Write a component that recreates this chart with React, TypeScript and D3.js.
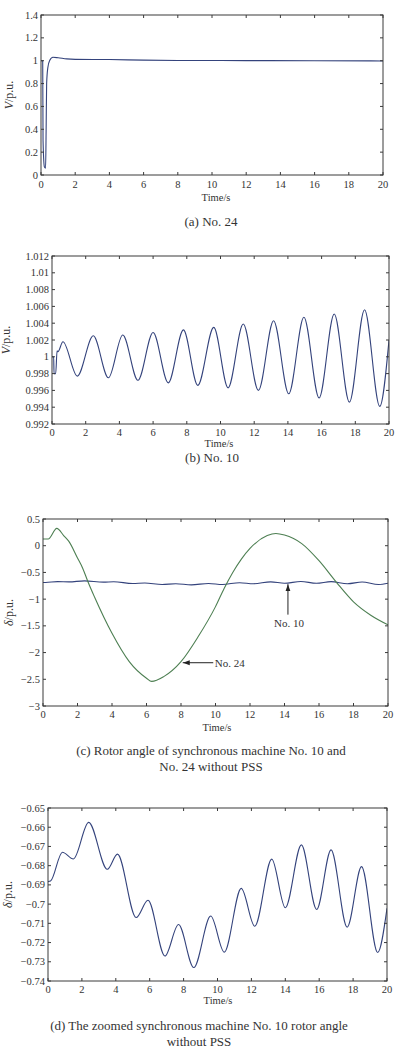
import React from "react";
import * as d3 from "d3";

// ---------- DATA ----------
const xTicks = [0, 2, 4, 6, 8, 10, 12, 14, 16, 18, 20];

// (a) bus No. 24 voltage
const v24T = [0, 0.1, 0.12, 0.2, 0.27, 0.3, 0.33, 0.4, 0.5, 0.7, 1.0, 1.5, 2, 4, 6, 8, 12, 16, 20];
const v24V = [1.0, 1.0, 0.3, 0.07, 0.06, 0.4, 0.8, 0.94, 1.0, 1.03, 1.026, 1.016, 1.012, 1.01, 1.005, 1.002, 1.001, 1.0, 0.998];
const yTicksA = [0, 0.2, 0.4, 0.6, 0.8, 1, 1.2, 1.4];

// (b) bus No. 10 voltage
const v10T = [0, 0.1, 0.12, 0.22, 0.3, 0.35, 0.65, 1.5, 2.45, 3.35, 4.2, 5.1, 6.0, 6.9, 7.8, 8.65, 9.6, 10.45, 11.35, 12.25, 13.15, 14.05, 14.95, 15.85, 16.75, 17.65, 18.55, 19.45, 20];
const v10V = [1.0, 1.0, 0.998, 0.998, 1.0007, 1.0006, 1.0018, 0.9977, 1.0025, 0.9975, 1.0026, 0.9972, 1.0029, 0.9969, 1.0032, 0.9966, 1.0035, 0.9963, 1.0039, 0.996, 1.0043, 0.9956, 1.0047, 0.9951, 1.0051, 0.9946, 1.0056, 0.9941, 1.002];
const yTicksB = [0.992, 0.994, 0.996, 0.998, 1, 1.002, 1.004, 1.006, 1.008, 1.01, 1.012];

// (c) rotor angle No. 24
const d24T = [0, 0.3, 0.8, 1.2, 1.5, 2.0, 2.3, 2.6, 3, 4, 5, 6, 6.3, 7, 8, 9, 10, 10.5, 11, 11.5, 12, 13, 13.5, 14, 15, 16, 17, 18, 19, 20];
const d24V = [0.125, 0.125, 0.325, 0.19, 0.08, -0.23, -0.42, -0.67, -0.97, -1.64, -2.17, -2.48, -2.54, -2.45, -2.17, -1.7, -1.14, -0.8, -0.5, -0.25, -0.05, 0.19, 0.23, 0.2, 0.04, -0.28, -0.68, -1.05, -1.3, -1.48];
const yTicksC = [-3, -2.5, -2, -1.5, -1, -0.5, 0, 0.5];

// (c)/(d) rotor angle No. 10
const d10T = [0, 0.15, 0.85, 1.5, 2.4, 3.5, 4.1, 5.2, 5.9, 6.9, 7.7, 8.6, 9.6, 10.4, 11.4, 12.2, 13.2, 14.0, 14.95, 15.85, 16.7, 17.65, 18.5, 19.45, 20];
const d10V = [-0.6883, -0.688, -0.673, -0.6765, -0.6575, -0.6819, -0.674, -0.707, -0.698, -0.727, -0.7106, -0.733, -0.7062, -0.725, -0.6918, -0.7115, -0.6766, -0.7019, -0.6692, -0.7028, -0.6718, -0.712, -0.6805, -0.7252, -0.7022];
const yTicksD = [-0.74, -0.73, -0.72, -0.71, -0.7, -0.69, -0.68, -0.67, -0.66, -0.65];

const BLUE = "#34437c";
const GREEN = "#4d7f52";
const AXIS = "#3a3a3a";
const FONT = "Liberation Serif, DejaVu Serif, Times New Roman, serif";

type Series = { t: number[]; v: number[]; color: string };

const fmt = (v: number) => {
  const s = String(+v.toFixed(4));
  return s.replace("-", "\u2212");
};

const txt = (size: number) => ({ fontSize: size, fontFamily: FONT, fill: "#333" });

function Panel(props: {
  left: number; right: number; top: number; bottom: number;
  yDomain: [number, number]; yTicks: number[];
  series: Series[];
  tickBase: number; timeBase: number; timeX: number;
  yLabel: React.ReactNode; yLabelX: number;
  children?: (x: d3.ScaleLinear<number, number>, y: d3.ScaleLinear<number, number>) => React.ReactNode;
}) {
  const { left, right, top, bottom, yDomain, yTicks, series } = props;
  const x = d3.scaleLinear().domain([0, 20]).range([left, right]);
  const y = d3.scaleLinear().domain(yDomain).range([bottom, top]);
  const line = d3.line<[number, number]>().x(d => x(d[0])).y(d => y(d[1])).curve(d3.curveMonotoneX);
  const tl = 3;
  const cid = `clip${left}${top}`;
  return (
    <g>
      <defs>
        <clipPath id={cid}><rect x={left} y={top} width={right - left} height={bottom - top} /></clipPath>
      </defs>
      <g clipPath={`url(#${cid})`}>
        {series.map((s, i) => (
          <path key={i} d={line(s.t.map((t, j) => [t, s.v[j]] as [number, number])) || ""} fill="none" stroke={s.color} strokeWidth={1.1} />
        ))}
      </g>
      <rect x={left} y={top} width={right - left} height={bottom - top} fill="none" stroke={AXIS} strokeWidth={1} />
      {xTicks.map(t => (
        <g key={"x" + t}>
          <line x1={x(t)} x2={x(t)} y1={bottom} y2={bottom - tl} stroke={AXIS} />
          <line x1={x(t)} x2={x(t)} y1={top} y2={top + tl} stroke={AXIS} />
          <text x={x(t)} y={props.tickBase} textAnchor="middle" style={txt(10.5)}>{fmt(t)}</text>
        </g>
      ))}
      {yTicks.map(v => (
        <g key={"y" + v}>
          <line x1={left} x2={left + tl} y1={y(v)} y2={y(v)} stroke={AXIS} />
          <line x1={right} x2={right - tl} y1={y(v)} y2={y(v)} stroke={AXIS} />
          <text x={left - 3} y={y(v) + 3.5} textAnchor="end" style={txt(10.5)}>{fmt(v)}</text>
        </g>
      ))}
      <text x={props.timeX} y={props.timeBase} textAnchor="middle" style={txt(10.5)}>Time/s</text>
      <text transform={`translate(${props.yLabelX},${(top + bottom) / 2}) rotate(-90)`} textAnchor="middle" style={txt(12)}>{props.yLabel}</text>
      {props.children ? props.children(x, y) : null}
    </g>
  );
}

export default function App() {
  const capStyle = txt(13);
  return (
    <div style={{ position: "absolute", left: 0, top: 0 }}>
      <svg width={396} height={1052} style={{ display: "block", background: "#fff" }}>
        <defs>
          <marker id="arr" viewBox="0 0 10 10" refX="10" refY="5" markerWidth="7" markerHeight="7" orient="auto-start-reverse">
            <path d="M0,1.5 L10,5 L0,8.5 z" fill="#222" />
          </marker>
        </defs>
        {/* (a) */}
        <Panel left={41} right={383} top={15} bottom={175} yDomain={[0, 1.4]} yTicks={yTicksA}
          series={[{ t: v24T, v: v24V, color: BLUE }]}
          tickBase={188} timeBase={201} timeX={216}
          yLabel={<><tspan fontStyle="italic">V</tspan>/p.u.</>} yLabelX={13} />
        <text x={211} y={226} textAnchor="middle" style={capStyle}>(a) No. 24</text>

        {/* (b) */}
        <Panel left={52} right={389} top={256} bottom={424} yDomain={[0.992, 1.012]} yTicks={yTicksB}
          series={[{ t: v10T, v: v10V, color: BLUE }]}
          tickBase={436} timeBase={447} timeX={219}
          yLabel={<><tspan fontStyle="italic">V</tspan>/p.u.</>} yLabelX={10} />
        <text x={212} y={462} textAnchor="middle" style={capStyle}>(b) No. 10</text>

        {/* (c) */}
        <Panel left={43} right={388} top={519} bottom={706} yDomain={[-3, 0.5]} yTicks={yTicksC}
          series={[{ t: d10T, v: d10V, color: BLUE }, { t: d24T, v: d24V, color: GREEN }]}
          tickBase={718} timeBase={731} timeX={217}
          yLabel={<><tspan fontStyle="italic">δ</tspan>/p.u.</>} yLabelX={13}>
          {(x, y) => (
            <g>
              <line x1={x(14.2)} x2={x(14.2)} y1={y(-1.29)} y2={y(-0.72)} stroke="#222" strokeWidth={1} markerEnd="url(#arr)" />
              <text x={x(14.26)} y={y(-1.44) + 4} textAnchor="middle" style={txt(11)}>No. 10</text>
              <line x1={x(9.87)} x2={x(8.1)} y1={y(-2.19)} y2={y(-2.19)} stroke="#222" strokeWidth={1} markerEnd="url(#arr)" />
              <text x={x(9.96)} y={y(-2.19) + 4} textAnchor="start" style={txt(11)}>No. 24</text>
            </g>
          )}
        </Panel>
        <text x={211} y={755} textAnchor="middle" style={capStyle}>(c) Rotor angle of synchronous machine No. 10 and</text>
        <text x={211} y={771} textAnchor="middle" style={capStyle}>No. 24 without PSS</text>

        {/* (d) */}
        <Panel left={48} right={387} top={808} bottom={981} yDomain={[-0.74, -0.65]} yTicks={yTicksD}
          series={[{ t: d10T, v: d10V, color: BLUE }]}
          tickBase={993} timeBase={1004} timeX={218}
          yLabel={<><tspan fontStyle="italic">δ</tspan>/p.u.</>} yLabelX={12} />
        <text x={199} y={1030} textAnchor="middle" style={capStyle}>(d) The zoomed synchronous machine No. 10 rotor angle</text>
        <text x={199} y={1046} textAnchor="middle" style={capStyle}>without PSS</text>
      </svg>
    </div>
  );
}
